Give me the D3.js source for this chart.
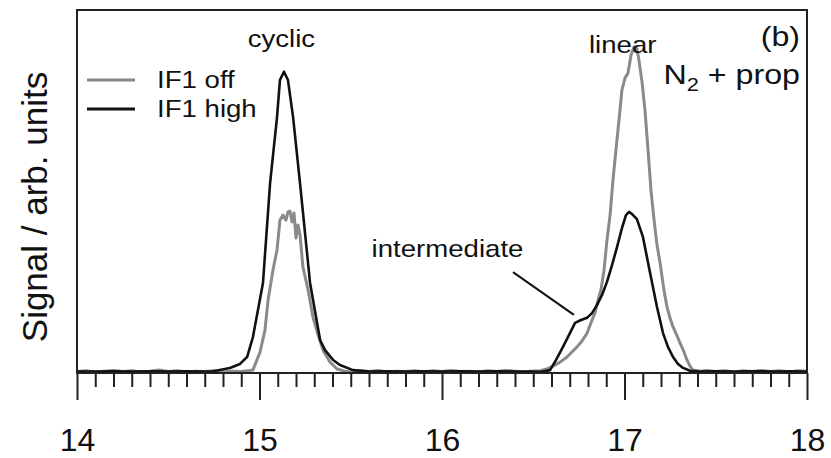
<!DOCTYPE html>
<html>
<head>
<meta charset="utf-8">
<script src="https://cdn.jsdelivr.net/npm/d3@7"></script>
<style>
  body { margin: 0; background: #fff; }
  svg { display: block; font-family: "Liberation Sans", Arial, sans-serif; }
</style>
</head>
<body>
<svg></svg>
<script>
var width = 831;
var height = 458;

// x range and ticks
var xDomain = [14, 18];
var majorTicks = [14, 15, 16, 17, 18];

// IF1 off (grey) : [time, signal]
var offData = [
  [14.00,0.4],[14.05,0.6],[14.10,0.3],[14.15,0.5],[14.20,0.7],[14.25,0.4],[14.30,0.6],[14.35,0.3],
  [14.40,0.5],[14.45,0.8],[14.50,0.4],[14.55,0.6],[14.60,0.3],[14.65,0.5],[14.70,0.4],[14.75,0.6],
  [14.80,0.3],[14.85,0.5],[14.90,0.4],[14.94,0.6],
  [14.964,0.8],[15.003,5.8],[15.030,11.8],[15.047,20.1],[15.074,28.4],[15.096,33.9],[15.112,42.1],
  [15.129,43.5],[15.145,42.1],[15.156,44.4],[15.167,44.6],[15.178,41.6],[15.189,44.1],[15.200,37.2],
  [15.211,40.8],[15.222,38.0],[15.238,29.2],[15.266,22.9],[15.293,15.4],[15.321,10.5],[15.348,6.3],
  [15.386,3.0],[15.425,1.1],[15.468,0.5],
  [15.50,0.3],[15.55,0.6],[15.60,0.4],[15.65,0.7],[15.70,0.3],[15.75,0.5],[15.80,0.4],[15.85,0.6],
  [15.90,0.3],[15.95,0.6],[16.00,0.4],[16.05,0.7],[16.10,0.4],[16.15,0.5],[16.20,0.3],[16.25,0.6],
  [16.30,0.4],[16.35,0.7],[16.40,0.5],[16.45,0.3],
  [16.482,0.5],[16.537,0.6],[16.575,1.1],[16.608,1.9],[16.647,3.0],[16.685,4.4],[16.712,5.8],
  [16.740,7.2],[16.767,8.8],[16.795,11.0],[16.816,13.8],[16.838,16.5],[16.855,20.1],[16.871,22.9],
  [16.888,28.4],[16.904,36.6],[16.921,43.5],[16.937,53.2],[16.953,61.4],[16.970,69.7],[16.986,78.0],
  [17.003,81.3],[17.019,82.6],[17.036,87.6],[17.052,89.8],[17.068,89.3],[17.079,86.2],[17.096,80.2],
  [17.112,72.5],[17.129,61.4],[17.145,50.4],[17.162,42.1],[17.178,35.3],[17.195,30.3],[17.216,22.9],
  [17.233,18.2],[17.249,15.2],[17.266,12.7],[17.288,10.2],[17.304,8.3],[17.326,5.8],[17.342,3.6],
  [17.359,1.9],[17.375,0.8],[17.414,0.5],
  [17.45,0.7],[17.50,0.4],[17.55,0.6],[17.60,0.3],[17.65,0.6],[17.70,0.4],[17.75,0.7],[17.80,0.4],
  [17.85,0.6],[17.90,0.3],[17.95,0.6],[18.00,0.5]
];

// IF1 high (black)
var highData = [
  [14.00,0.4],[14.10,0.4],[14.20,0.5],[14.30,0.4],[14.40,0.5],[14.50,0.4],[14.60,0.5],[14.70,0.4],
  [14.745,0.5],[14.767,0.7],[14.838,1.4],[14.893,2.5],[14.932,4.4],[14.964,9.9],[15.019,24.8],
  [15.058,52.3],[15.096,70.5],[15.112,80.7],[15.134,83.0],[15.156,80.7],[15.184,70.5],[15.222,52.3],
  [15.277,24.8],[15.332,9.1],[15.359,6.3],[15.403,3.6],[15.441,2.2],[15.512,0.8],[15.605,0.4],
  [15.70,0.5],[15.80,0.4],[15.90,0.5],[16.00,0.4],[16.10,0.5],[16.20,0.4],[16.30,0.5],[16.40,0.4],
  [16.50,0.4],
  [16.537,0.3],[16.592,0.8],[16.625,3.6],[16.663,7.2],[16.701,11.0],[16.729,13.8],[16.762,14.6],
  [16.795,15.2],[16.822,16.5],[16.849,18.7],[16.877,21.5],[16.904,25.1],[16.932,29.8],[16.959,34.7],
  [16.986,39.9],[17.008,43.5],[17.025,44.4],[17.047,43.5],[17.068,42.4],[17.101,37.5],[17.140,27.6],
  [17.178,18.2],[17.211,11.0],[17.238,7.2],[17.266,4.4],[17.293,2.5],[17.321,1.4],[17.359,0.6],
  [17.414,0.4],
  [17.50,0.5],[17.60,0.4],[17.70,0.5],[17.80,0.4],[17.90,0.5],[18.00,0.4]
];

var seriesNames = ['IF1 off', 'IF1 high'];
var seriesColors = ['#8a8a8a', '#111111'];

var svg = d3.select('svg')
  .attr('width', width)
  .attr('height', height)
  .style('background-color', '#fff');

var plot = { left: 77, right: 807, top: 10, bottom: 373 };

var x = d3.scaleLinear().domain(xDomain).range([plot.left, plot.right]);
var y = d3.scaleLinear().domain([0, 100]).range([plot.bottom, plot.top]);

var line = d3.line()
  .x(d => x(d[0]))
  .y(d => y(d[1]));

// minor ticks every 0.1
var minorTicks = d3.range(0, 41)
  .filter(i => i % 10 !== 0)
  .map(i => 14 + i / 10);

var minorAxis = d3.axisBottom(x)
  .tickValues(minorTicks)
  .tickSize(14)
  .tickSizeOuter(0)
  .tickFormat('');

var majorAxis = d3.axisBottom(x)
  .tickValues(majorTicks)
  .tickSize(27)
  .tickSizeOuter(0)
  .tickPadding(28)
  .tickFormat(d3.format('d'));

var gMinor = svg.append('g')
  .attr('transform', 'translate(0,' + plot.bottom + ')')
  .call(minorAxis);
var gMajor = svg.append('g')
  .attr('transform', 'translate(0,' + plot.bottom + ')')
  .call(majorAxis);

[gMinor, gMajor].forEach(g => {
  g.select('.domain').remove();
  g.selectAll('line').attr('stroke', '#222').attr('stroke-width', 2);
});
gMajor.selectAll('text')
  .attr('fill', '#111')
  .style('font-size', '32px')
  .style('font-family', '"Liberation Sans", Arial, sans-serif');

// curves
svg.append('path')
  .datum(offData)
  .attr('fill', 'none')
  .attr('stroke', seriesColors[0])
  .attr('stroke-width', 3)
  .attr('stroke-linejoin', 'round')
  .attr('d', line);

svg.append('path')
  .datum(highData)
  .attr('fill', 'none')
  .attr('stroke', seriesColors[1])
  .attr('stroke-width', 2.6)
  .attr('stroke-linejoin', 'round')
  .attr('d', line);

// frame
svg.append('rect')
  .attr('x', plot.left)
  .attr('y', plot.top)
  .attr('width', plot.right - plot.left)
  .attr('height', plot.bottom - plot.top)
  .attr('fill', 'none')
  .attr('stroke', '#222')
  .attr('stroke-width', 2);

// y label
svg.append('text')
  .attr('transform', 'translate(47,207) rotate(-90)')
  .attr('text-anchor', 'middle')
  .attr('fill', '#111')
  .style('font-size', '35px')
  .text('Signal / arb. units');

// small texts look a bit wide in the original
var sx = 1.15;
function label(px, py, str, size, anchor) {
  return svg.append('text')
    .attr('transform', 'translate(' + px + ',' + py + ') scale(' + sx + ',1)')
    .attr('text-anchor', anchor || 'start')
    .attr('fill', '#111')
    .style('font-size', size + 'px')
    .text(str);
}

// legend
seriesNames.forEach(function(name, i) {
  var ly = 80 + i * 29;
  svg.append('line')
    .attr('x1', 87).attr('x2', 135)
    .attr('y1', ly).attr('y2', ly)
    .attr('stroke', seriesColors[i])
    .attr('stroke-width', 3);
  label(157, ly + 8, name, 24);
});

// annotations
label(x(15.12), 47, 'cyclic', 24, 'middle');
label(x(16.99), 53, 'linear', 24, 'middle');
label(x(16.03), 257, 'intermediate', 24, 'middle');
svg.append('line')
  .attr('x1', x(16.389)).attr('y1', y(27.8))
  .attr('x2', x(16.723)).attr('y2', y(16.0))
  .attr('stroke', '#111')
  .attr('stroke-width', 2);

label(800, 46, '(b)', 28, 'end');
var nt = label(800, 84, '', 28, 'end');
nt.append('tspan').text('N');
nt.append('tspan').attr('dy', 7).style('font-size', '19px').text('2');
nt.append('tspan').attr('dy', -7).text(' + prop');
</script>
</body>
</html>
